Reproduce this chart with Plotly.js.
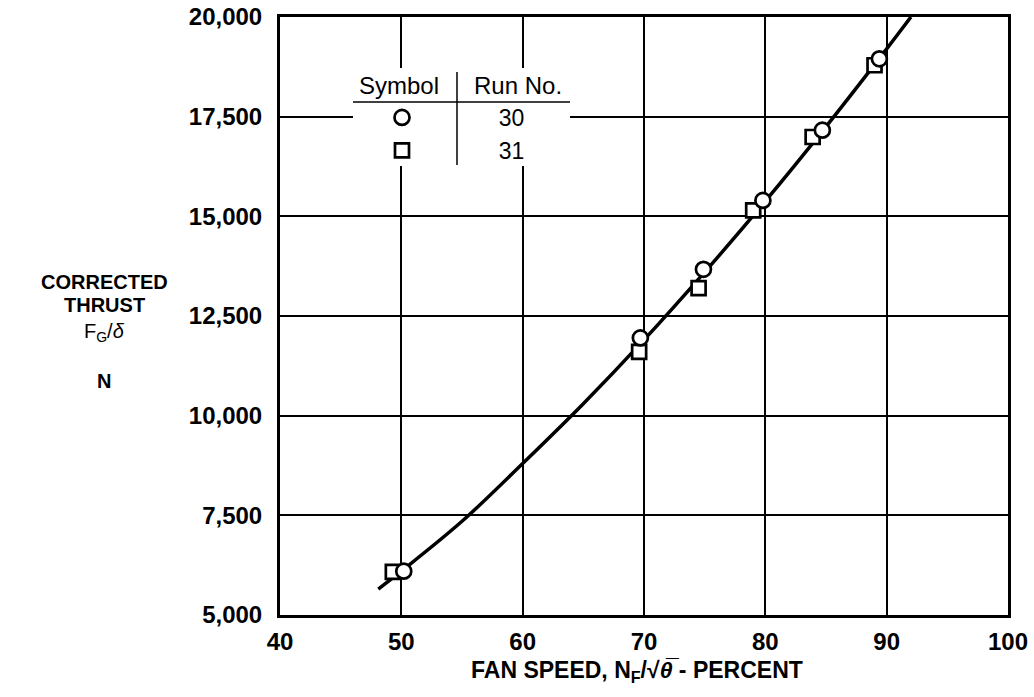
<!DOCTYPE html>
<html><head><meta charset="utf-8">
<script src="https://cdn.plot.ly/plotly-3.0.1.min.js"></script>
<style>body{margin:0;background:#fff}#chart{width:1034px;height:697px}</style>
</head><body><div id="chart"></div>
<script>
// Run 30 (circles)
const run30Speed  = [50.2, 69.7, 74.9, 79.8, 84.7, 89.4];
const run30Thrust = [6100, 11950, 13670, 15400, 17160, 18950];
// Run 31 (squares)
const run31Speed  = [49.3, 69.6, 74.5, 79.0, 83.9, 89.0];
const run31Thrust = [6080, 11600, 13200, 15150, 16990, 18790];
// Faired curve
const curveSpeed  = [48.1, 50, 55, 60, 65, 70, 75, 80, 85, 90, 92];
const curveThrust = [5650, 6100, 7350, 8800, 10300, 11900, 13600, 15380, 17250, 19200, 20000];
const runNumbers = ['30', '31'];
const xTickVals = [40, 50, 60, 70, 80, 90, 100];
const yTickVals = [5000, 7500, 10000, 12500, 15000, 17500, 20000];
const yTickText = ['5,000', '7,500', '10,000', '12,500', '15,000', '17,500', '20,000'];

const FONT = 'Liberation Sans, Arial, sans-serif';
const pad = '\u00A0'.repeat(12);

const traces = [
  {x: curveSpeed, y: curveThrust, mode: 'lines', line: {color: '#000', width: 3.5, shape: 'spline'},
   showlegend: false, hoverinfo: 'skip'},
  {x: run31Speed, y: run31Thrust, mode: 'markers', name: pad + runNumbers[1], legendrank: 2,
   marker: {symbol: 'square', size: 14, color: '#fff', line: {color: '#000', width: 2.7}}},
  {x: run30Speed, y: run30Thrust, mode: 'markers', name: pad + runNumbers[0], legendrank: 1,
   marker: {symbol: 'circle', size: 15, color: '#fff', line: {color: '#000', width: 2.7}}}
];

const px2x = p => (p - 280) / 728;
const py2y = p => (615 - p) / 598;
const ann = (text, px, py, size, weight) => ({text, xref: 'paper', yref: 'paper', x: px2x(px), y: py2y(py),
  xanchor: 'center', yanchor: 'middle', showarrow: false,
  font: {family: FONT, size, color: '#000', weight: weight || 'normal'}});

const layout = {
  width: 1034, height: 697,
  margin: {l: 280, r: 26, t: 17, b: 82},
  paper_bgcolor: '#fff', plot_bgcolor: '#fff',
  font: {family: FONT, color: '#000'},
  xaxis: {range: [40, 100], tickvals: xTickVals, ticktext: xTickVals.map(String),
    showgrid: true, gridcolor: '#000', gridwidth: 2, zeroline: false,
    showline: true, linecolor: '#000', linewidth: 3, mirror: true,
    ticks: '', ticklabelstandoff: 3,
    tickfont: {family: FONT, size: 24, weight: 'bold', color: '#000'}},
  yaxis: {range: [5000, 20000], tickvals: yTickVals, ticktext: yTickText,
    showgrid: true, gridcolor: '#000', gridwidth: 2, zeroline: false,
    showline: true, linecolor: '#000', linewidth: 3, mirror: true,
    ticks: '', ticklabelstandoff: 10,
    tickfont: {family: FONT, size: 24, weight: 'bold', color: '#000'}},
  showlegend: true,
  legend: {x: px2x(382), y: py2y(96), xanchor: 'left', yanchor: 'top',
    bgcolor: 'rgba(0,0,0,0)', borderwidth: 0, font: {family: FONT, size: 23, color: '#000'}},
  shapes: [
    {type: 'rect', xref: 'paper', yref: 'paper', x0: px2x(353), x1: px2x(570), y0: py2y(166), y1: py2y(68),
     fillcolor: '#fff', line: {width: 0}, layer: 'above'},
    {type: 'line', xref: 'paper', yref: 'paper', x0: px2x(353), x1: px2x(570), y0: py2y(102), y1: py2y(102),
     line: {color: '#000', width: 1.5}, layer: 'above'},
    {type: 'line', xref: 'paper', yref: 'paper', x0: px2x(457), x1: px2x(457), y0: py2y(72), y1: py2y(165),
     line: {color: '#000', width: 1.5}, layer: 'above'}
  ],
  annotations: [
    ann('Symbol', 399, 85, 24),
    ann('Run No.', 518, 85, 24),
    ann('CORRECTED', 104, 282, 20, 'bold'),
    ann('THRUST', 104, 305, 20, 'bold'),
    ann('F<sub>G</sub>/<i>δ</i>', 104, 332, 20),
    ann('N', 104, 381, 20, 'bold'),
    ann('FAN SPEED, N<sub>F</sub>/√<i>θ</i>\u0305 - PERCENT', 637, 671, 23, 'bold')
  ]
};

Plotly.newPlot('chart', traces, layout, {displayModeBar: false, staticPlot: true});
</script>
</body></html>
